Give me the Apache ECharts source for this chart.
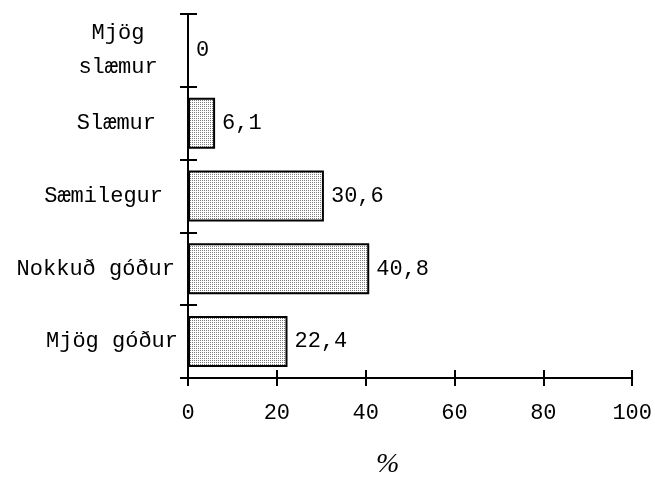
<!DOCTYPE html>
<html><head><meta charset="utf-8">
<script src="https://cdn.jsdelivr.net/npm/echarts@6/dist/echarts.min.js"></script>
<style>html,body{margin:0;padding:0;background:#fff}#c{width:655px;height:480px}</style>
</head><body><div id="c"></div>
<script>
// ---- data ----
const categories = ['Mjög\nslæmur', 'Slæmur', 'Sæmilegur', 'Nokkuð góður', 'Mjög góður'];
const values = [0, 6.1, 30.6, 40.8, 22.4];
const xTicks = [0, 20, 40, 60, 80, 100];
const axisTitle = '%';

// ---- styling (label alignment / right padding per category, to mimic the original placement) ----
const labelAlign = ['center', 'right', 'right', 'right', 'right'];
const labelPadRight = [120, 22, 15, 3, 0];

const MONO = "'Liberation Mono', 'Courier New', monospace";
const pc = document.createElement('canvas');
pc.width = 2; pc.height = 2;
const g = pc.getContext('2d');
g.fillStyle = '#ffffff'; g.fillRect(0, 0, 2, 2);
g.fillStyle = '#7a7a7a'; g.fillRect(0, 0, 1, 1);

const xMin = xTicks[0], xMax = xTicks[xTicks.length - 1], xInt = xTicks[1] - xTicks[0];
const lineStyle = { color: '#000', width: 2 };

const xBase = {
  type: 'value', position: 'bottom', min: xMin, max: xMax, interval: xInt,
  splitLine: { show: false },
  axisLine: { show: true, lineStyle: lineStyle },
};
const yBase = {
  type: 'category', position: 'left', inverse: true, data: categories.map((c, i) => ({
    value: c, textStyle: { align: labelAlign[i], padding: [0, labelPadRight[i], 0, 0] }
  })),
  axisLine: { show: true, lineStyle: lineStyle },
  splitLine: { show: false },
};

const chart = echarts.init(document.getElementById('c'));
chart.setOption({
  animation: false,
  backgroundColor: '#fff',
  title: {
    text: axisTitle, left: 371, top: 446,
    textStyle: { fontFamily: "'Liberation Serif', 'Times New Roman', serif", fontStyle: 'italic', fontWeight: 'normal', fontSize: 28, color: '#000' }
  },
  grid: { left: 188, right: 18, top: 14, bottom: 102, containLabel: false },
  xAxis: [
    Object.assign({}, xBase, {
      axisTick: { show: true, inside: false, length: 8, lineStyle: lineStyle },
      axisLabel: { show: true, margin: 24, fontFamily: MONO, fontSize: 22, color: '#000' }
    }),
    Object.assign({}, xBase, {
      axisTick: { show: true, inside: true, length: 8, lineStyle: lineStyle },
      axisLabel: { show: false }
    })
  ],
  yAxis: [
    Object.assign({}, yBase, {
      axisTick: { show: true, inside: false, length: 8, lineStyle: lineStyle },
      axisLabel: { show: true, margin: 10, fontFamily: MONO, fontSize: 22, color: '#000', lineHeight: 34, align: 'right' }
    }),
    Object.assign({}, yBase, {
      axisTick: { show: true, inside: true, length: 9, lineStyle: lineStyle },
      axisLabel: { show: false }
    })
  ],
  series: [{
    type: 'bar',
    xAxisIndex: 0, yAxisIndex: 0,
    data: values,
    barWidth: '70%',
    itemStyle: { color: { image: pc, repeat: 'repeat' }, borderColor: '#000', borderWidth: 2 },
    label: {
      show: true, position: 'right', distance: 7,
      fontFamily: MONO, fontSize: 22, color: '#000',
      formatter: p => String(p.value).replace('.', ',')
    }
  }]
});
</script></body></html>
